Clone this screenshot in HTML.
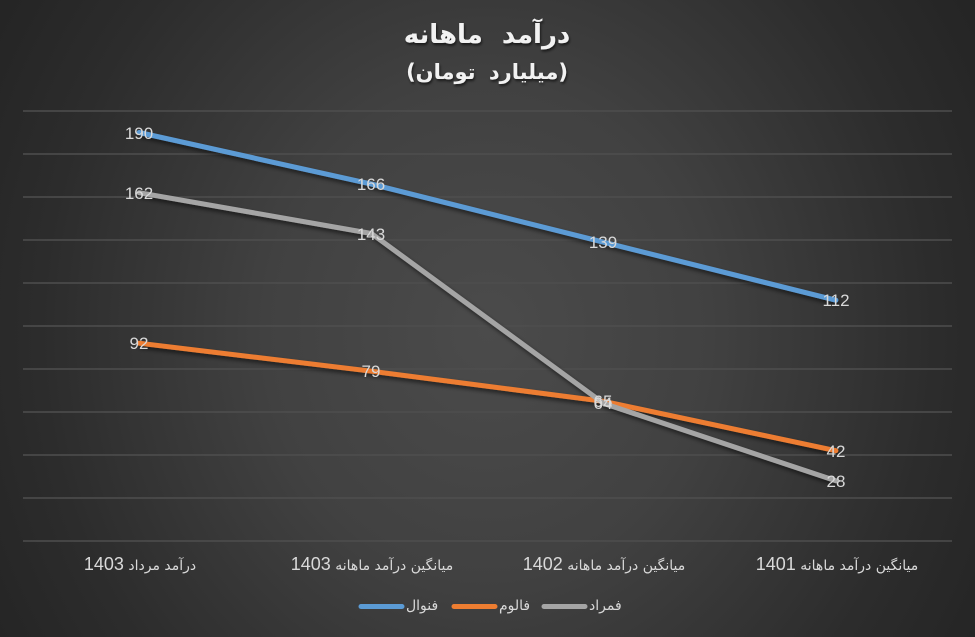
<!DOCTYPE html>
<html>
<head>
<meta charset="utf-8">
<style>
html,body{margin:0;padding:0;}
body{width:975px;height:637px;overflow:hidden;
background:radial-gradient(ellipse 560px 620px at 50% 52%, #4b4b4b 0%, #414141 40%, #2c2c2c 80%, #252525 100%);
font-family:"Liberation Sans","DejaVu Sans",sans-serif;}
svg{position:absolute;left:0;top:0;}
</style>
</head>
<body>
<svg width="975" height="637" viewBox="0 0 975 637" xmlns="http://www.w3.org/2000/svg">
<defs>
<filter id="sh" x="-10%" y="-10%" width="120%" height="130%">
<feDropShadow dx="2" dy="3" stdDeviation="2" flood-color="#000" flood-opacity="0.55"/>
</filter>
<filter id="tsh" x="-10%" y="-20%" width="120%" height="150%">
<feDropShadow dx="1" dy="2" stdDeviation="1.2" flood-color="#000" flood-opacity="0.6"/>
</filter>
</defs>
<!-- title -->
<g filter="url(#tsh)" fill="#f2f2f2" font-family="'DejaVu Sans',sans-serif" font-weight="bold" text-anchor="middle">
<text x="487" y="43" font-size="26" direction="rtl" word-spacing="10">درآمد ماهانه</text>
<text x="487" y="79" font-size="21" direction="rtl" word-spacing="6">(میلیارد تومان)</text>
</g>
<!-- gridlines -->
<g stroke="#4e4e4e" stroke-width="1.5">
<line x1="23" y1="111" x2="952" y2="111"/>
<line x1="23" y1="154" x2="952" y2="154"/>
<line x1="23" y1="197" x2="952" y2="197"/>
<line x1="23" y1="240" x2="952" y2="240"/>
<line x1="23" y1="283" x2="952" y2="283"/>
<line x1="23" y1="326" x2="952" y2="326"/>
<line x1="23" y1="369" x2="952" y2="369"/>
<line x1="23" y1="412" x2="952" y2="412"/>
<line x1="23" y1="455" x2="952" y2="455"/>
<line x1="23" y1="498" x2="952" y2="498"/>
<line x1="23" y1="541" x2="952" y2="541"/>
</g>
<!-- series -->
<g fill="none" stroke-width="5" stroke-linecap="round" stroke-linejoin="round" filter="url(#sh)">
<polyline stroke="#5b9bd5" points="139.1,132.5 371.4,184.1 603.6,242.2 835.9,300.2"/>
<polyline stroke="#ed7d31" points="139.1,343.2 371.4,371.2 603.6,401.3 835.9,450.7"/>
<polyline stroke="#a5a5a5" points="139.1,192.7 371.4,233.5 603.6,403.4 835.9,480.8"/>
</g>
<!-- data labels -->
<g fill="#d9d9d9" font-size="17" text-anchor="middle" font-family="'Liberation Sans',sans-serif">
<text x="139" y="139">190</text>
<text x="371" y="190">166</text>
<text x="603" y="248">139</text>
<text x="836" y="306">112</text>
<text x="139" y="349">92</text>
<text x="371" y="377">79</text>
<text x="603" y="407">65</text>
<text x="836" y="457">42</text>
<text x="139" y="199">162</text>
<text x="371" y="240">143</text>
<text x="603" y="409">64</text>
<text x="836" y="487">28</text>
</g>
<!-- category labels -->
<g fill="#d9d9d9" text-anchor="middle" font-family="'Liberation Sans','DejaVu Sans',sans-serif">
<text x="140" y="570" font-size="18" direction="rtl"><tspan font-family="'DejaVu Sans',sans-serif" font-size="14">درآمد مرداد </tspan>1403</text>
<text x="372" y="570" font-size="18" direction="rtl"><tspan font-family="'DejaVu Sans',sans-serif" font-size="14">میانگین درآمد ماهانه </tspan>1403</text>
<text x="604" y="570" font-size="18" direction="rtl"><tspan font-family="'DejaVu Sans',sans-serif" font-size="14">میانگین درآمد ماهانه </tspan>1402</text>
<text x="837" y="570" font-size="18" direction="rtl"><tspan font-family="'DejaVu Sans',sans-serif" font-size="14">میانگین درآمد ماهانه </tspan>1401</text>
</g>
<!-- legend -->
<g stroke-width="5" stroke-linecap="round">
<line x1="361" y1="606.5" x2="402" y2="606.5" stroke="#5b9bd5"/>
<line x1="454" y1="606.5" x2="495" y2="606.5" stroke="#ed7d31"/>
<line x1="544" y1="606.5" x2="585" y2="606.5" stroke="#a5a5a5"/>
</g>
<g fill="#d9d9d9" font-size="14" font-family="'DejaVu Sans',sans-serif" text-anchor="start">
<text x="406" y="610">فنوال</text>
<text x="499" y="610">فالوم</text>
<text x="589" y="610">فمراد</text>
</g>
</svg>
</body>
</html>
